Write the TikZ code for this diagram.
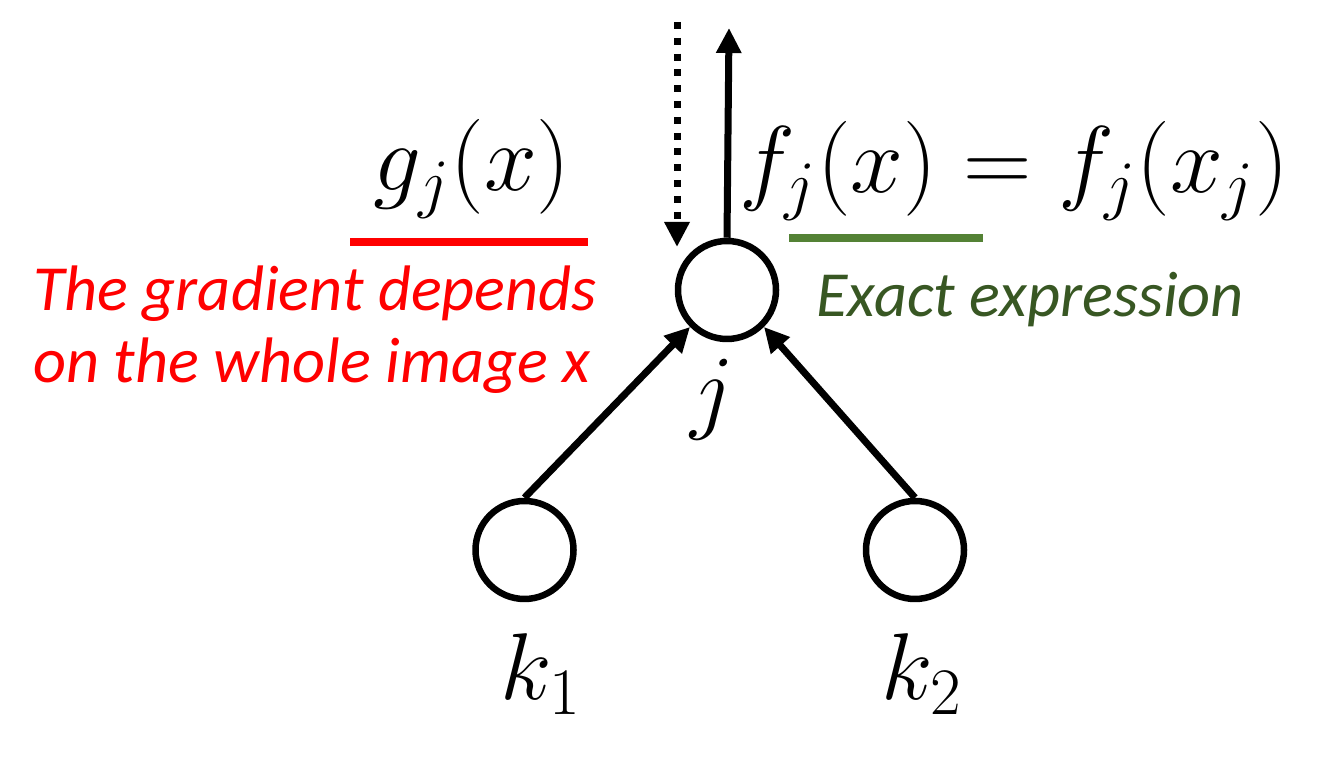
\RequirePackage{fix-cm}
\documentclass[tikz,border=0pt]{standalone}
\usepackage{fontspec}
\newfontfamily\calfont{Carlito}
\definecolor{gradred}{RGB}{255,0,0}
\definecolor{exgreen}{RGB}{84,130,53}
\definecolor{exgreendark}{RGB}{56,87,35}
\usetikzlibrary{arrows.meta,positioning}

\begin{document}
\begin{tikzpicture}[
    neuron/.style={draw,circle,line width=0.065cm,minimum size=0.98cm,inner sep=0pt},
    edge/.style={line width=0.07cm,-{Triangle[length=0.25cm,width=0.24cm]}},
    mathlbl/.style={font=\fontsize{27}{32}\selectfont,inner sep=0pt},
    note/.style={font=\calfont\itshape\fontsize{18.3}{20.5}\selectfont,align=left,inner sep=0pt}]
  \useasboundingbox (0,0) rectangle (13.37,7.6);

  %% neurons
  \node[neuron] (j) at (7.27,4.70) {};
  \node[neuron] (k1) at (5.245,2.10) {};
  \node[neuron] (k2) at (9.15,2.10) {};

  %% connections
  \draw[edge] (k1.north) -- (j.225);
  \draw[edge] (k2.north) -- (j.-45);
  \coordinate (out) at (7.29,7.32);
  \draw[edge] (j.north) -- (out);
  \coordinate (gin) at (6.77,7.38);
  \coordinate (gtip) at (6.77,5.13);
  \draw[edge,line width=0.07cm,dash pattern=on 0.07cm off 0.088cm] (gin) -- (gtip);

  %% labels
  \node[mathlbl,anchor=base] (jlbl) at (7.12,3.38) {$j$};
  \node[mathlbl,anchor=base] (k1lbl) at (5.41,0.60) {$k_1$};
  \node[mathlbl,anchor=base] (k2lbl) at (9.22,0.60) {$k_2$};
  \node[mathlbl,anchor=base] (glbl) at (4.72,5.69) {$g_j(x)$};
  \node[mathlbl,anchor=base] (flbl) at (10.14,5.67) {$f_j(x)=f_j(x_j)$};

  %% underlines and notes
  \draw[gradred,line width=0.08cm] (3.50,5.18) -- (5.88,5.18);
  \draw[exgreen,line width=0.08cm] (7.89,5.22) -- (9.83,5.22);
  \node[note,text=gradred] (gnote) at (3.15,4.30)
        {The gradient depends\\on the whole image x};
  \node[note,text=exgreendark] (fnote) at (10.30,4.60) {Exact expression};
\end{tikzpicture}
\end{document}
